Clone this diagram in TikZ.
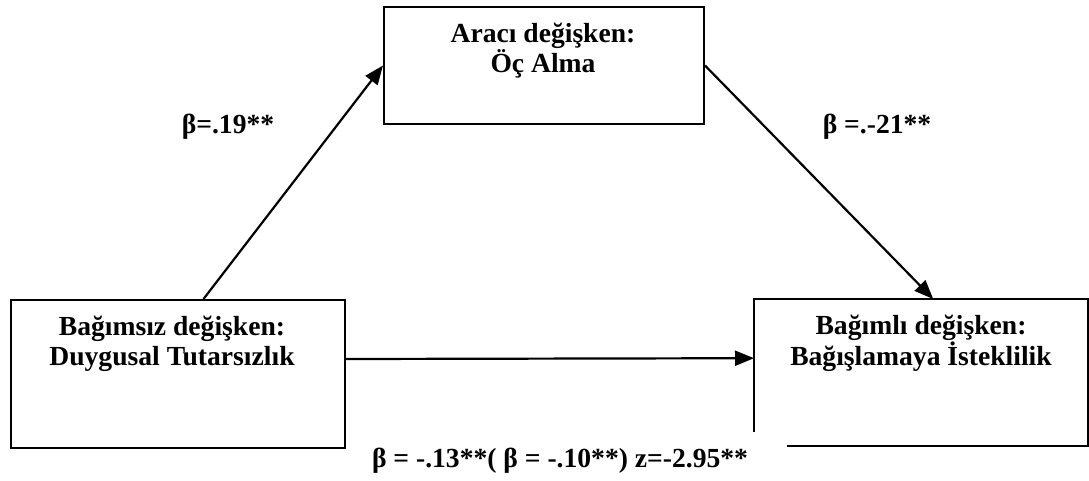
\documentclass[tikz,border=0pt]{standalone}
\usepackage{fontspec}
\setmainfont{Liberation Serif}
\usetikzlibrary{arrows.meta,calc}
\begin{document}
\begin{tikzpicture}[x=1pt,y=-1pt,
  boxline/.style={line width=2pt},
  varbox/.style={boxline, draw, rectangle, inner sep=0pt},
  plainbox/.style={rectangle, inner sep=0pt},
  lbl/.style={font=\fontsize{27.6}{31}\selectfont\bfseries, inner sep=0pt, anchor=base},
  conn/.style={line width=2.2pt, -{Triangle[length=19pt,width=15pt]}}]
\useasboundingbox (0,0) rectangle (1089,480);
\fill[white] (0,0) rectangle (1089,480);
% boxes
\node[varbox, minimum width=334pt, minimum height=148pt, anchor=north west] (L) at (9.5,299) {};
\node[varbox, minimum width=320pt, minimum height=117pt, anchor=north west] (T) at (383,6) {};
\node[plainbox, minimum width=334pt, minimum height=147pt, anchor=north west] (R) at (754,299) {};
\draw[boxline] ($(R.south west)+(0,-14)$) -- (R.north west) -- (R.north east) -- (R.south east) -- ($(R.south west)+(33,0)$);
% box texts
\node[lbl] (L1) at (172,335) {Bağımsız değişken:};
\node[lbl] (L2) at (172,365) {Duygusal Tutarsızlık};
\node[lbl] (T1) at (543,42) {Aracı değişken:};
\node[lbl] (T2) at (543,72) {Öç Alma};
\node[lbl] (R1) at (921,334) {Bağımlı değişken:};
\node[lbl] (R2) at (921,365) {Bağışlamaya İsteklilik};
% connectors
\draw[conn] ($(L.north)+(26,0)$) -- (T.west);
\draw[conn] (T.east) -- ($(R.north)+(12,0)$);
\draw[conn] ($(L.east)+(0,-15)$) -- ($(R.west)+(0,-14.5)$);
% path labels
\node[lbl] (a) at (228,133) {β=.19**};
\node[lbl] (b) at (877,133) {β =.-21**};
\node[lbl] (c) at (560,467) {β = -.13**( β = -.10**) z=-2.95**};
\end{tikzpicture}
\end{document}
